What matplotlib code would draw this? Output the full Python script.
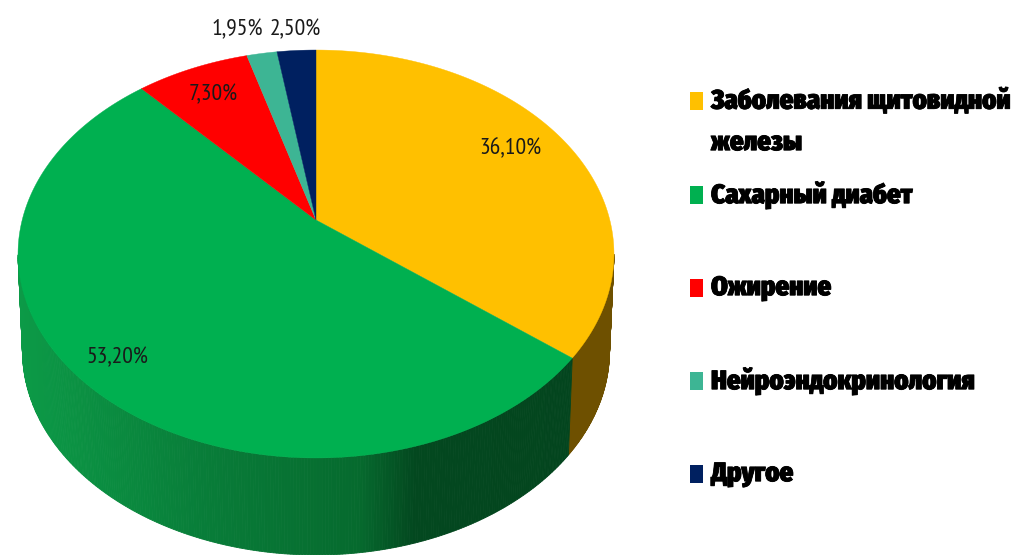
import numpy as np
import matplotlib
matplotlib.use('Agg')
import matplotlib.pyplot as plt
import matplotlib.patheffects as pe
from matplotlib.patches import Rectangle
from matplotlib.colors import LinearSegmentedColormap

categories = ['Заболевания щитовидной\nжелезы', 'Сахарный диабет', 'Ожирение',
              'Нейроэндокринология', 'Другое']
values = [36.10, 53.20, 7.30, 1.95, 2.50]
value_labels = ['36,10%', '53,20%', '7,30%', '1,95%', '2,50%']
colors = ['#FFC000', '#00B050', '#FF0000', '#3DB594', '#002060']
side_colors = ['#6E5000', None, '#800000', '#1E5A4A', '#001030']

label_pos = [(510, 149), (117, 358), (213, 95), (237, 30), (295, 30)]
legend_y = [101, 195, 288, 381, 474]

cx, cy = 316, 220
k = 1 / 6
A = 198.3
B = 293.8
depth = 97
shrink = 0.985
mid_y = 254

green_side = LinearSegmentedColormap.from_list(
    'green_side', [(0, '#0C9A47'), (0.35, '#087C38'), (0.62, '#066A2E'),
                   (0.72, '#03481F'), (1, '#03451E')])


def project(t):
    # t is clockwise from the top of the pie, radians
    u, v = np.sin(t), np.cos(t)
    d = 1 + k * v
    return cx + B * u / d, cy - A * v / d


def lower(x, y):
    return cx + (x - cx) * shrink, y + depth


fig = plt.figure(figsize=(10.14, 5.55), dpi=100)
ax = fig.add_axes([0, 0, 1, 1])
ax.set_xlim(0, 1014)
ax.set_ylim(555, 0)
ax.axis('off')

edges = np.cumsum([0] + values) / sum(values) * 2 * np.pi

# side wall, only the part facing the viewer
for i in range(len(values)):
    t = np.linspace(edges[i], edges[i + 1], 400)
    x, y = project(t)
    xb, yb = lower(x, y)
    for j in range(len(t) - 1):
        if y[j] < mid_y or y[j + 1] < mid_y:
            continue
        if side_colors[i] is None:
            c = green_side((x[j] - 18) / (572 - 18))
        else:
            c = side_colors[i]
        ax.fill([x[j], x[j + 1], xb[j + 1], xb[j]], [y[j], y[j + 1], yb[j + 1], yb[j]],
                color=c, lw=0.6, zorder=1)

# top face
for i in range(len(values)):
    t = np.linspace(edges[i], edges[i + 1], 300)
    x, y = project(t)
    ax.fill(np.r_[cx, x], np.r_[cy, y], color=colors[i], lw=0.3, zorder=2)

for s, (lx, ly) in zip(value_labels, label_pos):
    ax.text(lx, ly, s, ha='center', va='center', fontsize=17, color='#1a1a1a',
            family=['PT Sans Narrow', 'DejaVu Sans'], zorder=3)

stroke = [pe.withStroke(linewidth=0.6, foreground='black')]
for name, c, ly in zip(categories, colors, legend_y):
    ax.add_patch(Rectangle((690, ly - 9), 13, 18, color=c, lw=0, zorder=3))
    lines = name.split('\n')
    ax.text(711, ly, lines[0], ha='left', va='center', fontsize=19.2, fontweight=900,
            color='black', family=['Fira Sans Condensed', 'DejaVu Sans'], zorder=3,
            path_effects=stroke)
    if len(lines) > 1:
        ax.text(711, ly + 42, lines[1], ha='left', va='center', fontsize=19.2, fontweight=900,
                color='black', family=['Fira Sans Condensed', 'DejaVu Sans'], zorder=3,
                path_effects=stroke)

fig.savefig('out.png', dpi=100)
